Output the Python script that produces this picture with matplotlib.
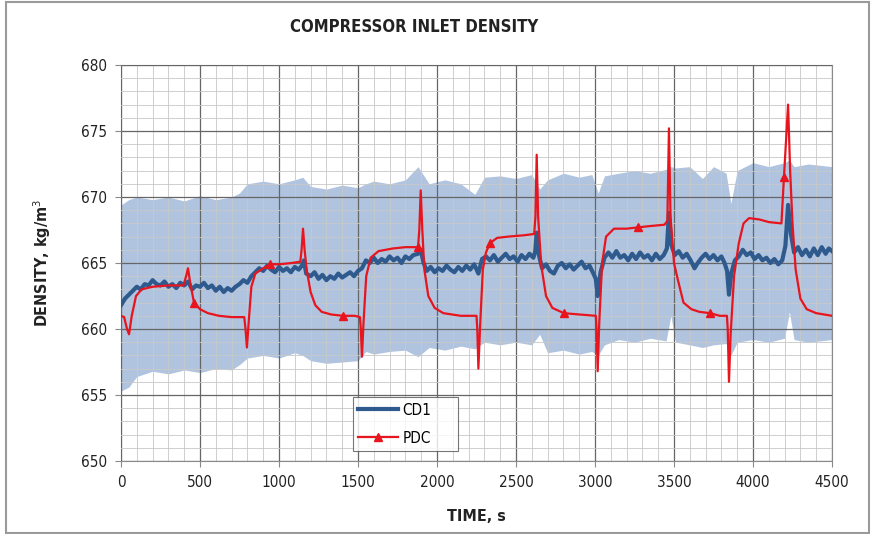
import matplotlib
matplotlib.use("Agg")
import matplotlib.pyplot as plt
from matplotlib.ticker import MultipleLocator
from matplotlib.patches import Rectangle

# ---------------- data ----------------
# CD1 measured density: (time s, density kg/m3)
cd1_points = [
    (0, 661.8), (25, 662.3), (50, 662.6), (75, 662.9), (100, 663.2), (125, 663.0), (150, 663.4),
    (175, 663.3), (200, 663.7), (225, 663.4), (250, 663.3), (275, 663.6), (300, 663.2), (325, 663.4),
    (350, 663.1), (375, 663.5), (400, 663.3), (425, 663.6), (450, 663.0), (475, 663.3), (500, 663.2),
    (525, 663.5), (550, 663.1), (575, 663.3), (600, 662.9), (625, 663.2), (650, 662.8), (675, 663.1),
    (700, 662.9), (725, 663.2), (750, 663.4), (775, 663.7), (800, 663.5), (825, 664.0), (850, 664.3),
    (875, 664.6), (900, 664.4), (925, 664.8), (950, 664.5), (975, 664.3), (1000, 664.7), (1025, 664.4),
    (1050, 664.6), (1075, 664.3), (1100, 664.7), (1125, 664.5), (1145, 664.8), (1158, 665.2),
    (1172, 664.2), (1200, 664.0), (1225, 664.3), (1250, 663.8), (1275, 664.1), (1300, 663.7),
    (1325, 664.0), (1350, 663.8), (1375, 664.2), (1400, 663.9), (1425, 664.1), (1450, 664.3),
    (1475, 664.0), (1500, 664.4), (1525, 664.6), (1550, 665.2), (1575, 665.0), (1600, 665.4),
    (1625, 665.0), (1650, 665.3), (1675, 665.1), (1700, 665.5), (1725, 665.2), (1750, 665.4),
    (1775, 665.0), (1800, 665.5), (1825, 665.3), (1850, 665.6), (1880, 665.7), (1897, 666.0),
    (1915, 665.0), (1935, 664.4), (1960, 664.7), (1985, 664.3), (2010, 664.6), (2035, 664.4),
    (2060, 664.8), (2085, 664.5), (2110, 664.3), (2135, 664.7), (2160, 664.4), (2185, 664.8),
    (2210, 664.5), (2235, 664.9), (2262, 664.2), (2285, 665.3), (2310, 665.5), (2335, 665.2),
    (2360, 665.6), (2385, 665.1), (2410, 665.4), (2435, 665.7), (2460, 665.3), (2485, 665.5),
    (2510, 665.1), (2535, 665.6), (2560, 665.3), (2585, 665.7), (2610, 665.4), (2622, 665.9),
    (2631, 667.3), (2645, 665.6), (2665, 664.6), (2690, 664.9), (2715, 664.4), (2740, 664.2),
    (2765, 664.8), (2790, 665.0), (2815, 664.6), (2840, 664.9), (2865, 664.5), (2890, 664.8),
    (2915, 665.1), (2940, 664.6), (2965, 664.8), (2990, 664.2), (3005, 663.8), (3017, 662.5),
    (3035, 664.3), (3060, 665.4), (3085, 665.8), (3110, 665.4), (3135, 665.9), (3160, 665.4),
    (3185, 665.6), (3210, 665.2), (3235, 665.7), (3260, 665.3), (3285, 665.8), (3310, 665.4),
    (3335, 665.6), (3360, 665.2), (3385, 665.7), (3410, 665.3), (3435, 665.6), (3455, 666.1),
    (3468, 668.8), (3482, 666.4), (3505, 665.6), (3530, 665.9), (3555, 665.4), (3580, 665.7),
    (3605, 665.2), (3630, 664.6), (3650, 665.0), (3675, 665.4), (3700, 665.7), (3725, 665.3),
    (3750, 665.6), (3775, 665.2), (3800, 665.5), (3820, 665.0), (3836, 664.4), (3848, 662.6),
    (3862, 664.2), (3885, 665.2), (3910, 665.5), (3935, 666.0), (3960, 665.6), (3985, 665.8),
    (4010, 665.3), (4035, 665.6), (4060, 665.2), (4085, 665.4), (4110, 665.0), (4135, 665.3),
    (4160, 664.9), (4185, 665.2), (4205, 666.3), (4222, 669.4), (4240, 667.2), (4260, 665.8),
    (4285, 666.2), (4310, 665.6), (4335, 666.0), (4360, 665.5), (4385, 666.1), (4410, 665.6),
    (4435, 666.2), (4460, 665.7), (4480, 666.1), (4500, 665.9),
]

# CD1 uncertainty band: (time s, lower, upper)
band_points = [
    (0, 655.3, 669.4), (50, 655.6, 669.8), (100, 656.4, 670.0), (200, 656.8, 669.8),
    (300, 656.6, 670.0), (400, 656.9, 669.7), (500, 656.7, 670.1), (600, 657.0, 669.8),
    (700, 656.9, 670.0), (750, 657.3, 670.3), (800, 657.8, 671.0), (900, 658.0, 671.2),
    (1000, 657.8, 671.0), (1100, 658.2, 671.3), (1150, 658.0, 671.5), (1200, 657.6, 670.8),
    (1300, 657.4, 670.6), (1400, 657.5, 670.9), (1500, 657.6, 670.7), (1550, 658.3, 671.0),
    (1600, 658.1, 671.2), (1700, 658.3, 671.0), (1800, 658.4, 671.3), (1880, 657.9, 672.3),
    (1950, 658.6, 671.0), (2050, 658.4, 671.3), (2150, 658.7, 671.0), (2240, 658.5, 670.2),
    (2300, 659.0, 671.5), (2400, 658.8, 671.6), (2500, 659.0, 671.4), (2600, 658.8, 671.7),
    (2650, 659.6, 670.6), (2700, 658.2, 671.3), (2800, 658.4, 671.8), (2900, 658.1, 671.5),
    (2980, 658.3, 671.7), (3020, 658.0, 670.3), (3060, 658.8, 671.6), (3150, 659.2, 671.8),
    (3250, 659.0, 672.0), (3350, 659.3, 671.8), (3450, 659.1, 672.1), (3480, 661.0, 672.3),
    (3510, 659.0, 672.2), (3600, 658.8, 672.3), (3680, 658.6, 671.4), (3750, 658.8, 672.3),
    (3830, 658.9, 671.8), (3860, 658.0, 669.5), (3900, 659.0, 672.0), (4000, 659.2, 672.6),
    (4100, 659.0, 672.3), (4200, 659.3, 672.6), (4230, 661.3, 672.8), (4260, 659.2, 672.3),
    (4350, 659.0, 672.5), (4500, 659.2, 672.3),
]

# PDC predicted density: (time s, density kg/m3)
pdc_points = [
    (0, 661.0), (20, 660.9), (38, 660.0), (51, 659.6), (68, 661.0), (95, 662.5), (130, 663.0),
    (200, 663.2), (300, 663.3), (395, 663.3), (412, 664.0), (424, 664.6), (438, 663.5), (462, 662.0),
    (500, 661.5), (550, 661.2), (620, 661.0), (700, 660.9), (780, 660.9), (788, 660.0), (797, 658.6),
    (808, 660.5), (825, 663.2), (850, 664.2), (900, 664.6), (943, 664.9), (1000, 664.9), (1080, 665.0),
    (1135, 665.1), (1143, 666.0), (1152, 667.6), (1162, 666.0), (1175, 664.5), (1200, 662.8),
    (1230, 661.8), (1270, 661.3), (1330, 661.1), (1405, 661.0), (1480, 661.0), (1512, 660.9),
    (1518, 660.0), (1525, 657.9), (1535, 660.5), (1552, 664.0), (1580, 665.4), (1630, 665.9),
    (1720, 666.1), (1800, 666.2), (1880, 666.2), (1888, 667.5), (1897, 670.5), (1907, 667.5),
    (1920, 664.5), (1945, 662.5), (1985, 661.6), (2040, 661.2), (2150, 661.0), (2250, 661.0),
    (2255, 660.0), (2262, 657.0), (2272, 660.0), (2290, 664.5), (2310, 665.8), (2335, 666.5),
    (2380, 666.9), (2450, 667.0), (2550, 667.1), (2615, 667.2), (2623, 668.5), (2631, 673.2),
    (2640, 668.5), (2660, 664.8), (2690, 662.5), (2730, 661.6), (2803, 661.2), (2900, 661.1),
    (3005, 661.0), (3010, 660.0), (3017, 656.8), (3027, 660.5), (3045, 665.0), (3070, 667.0),
    (3120, 667.6), (3200, 667.6), (3272, 667.7), (3350, 667.8), (3440, 667.9), (3458, 668.2),
    (3468, 675.2), (3478, 668.5), (3500, 665.0), (3525, 663.7), (3560, 662.0), (3610, 661.5),
    (3660, 661.3), (3728, 661.2), (3790, 661.0), (3835, 661.0), (3840, 660.0), (3848, 656.0),
    (3858, 659.5), (3880, 664.0), (3910, 666.5), (3940, 668.0), (3975, 668.4), (4040, 668.3),
    (4100, 668.1), (4180, 668.0), (4196, 671.5), (4222, 677.0), (4235, 672.0), (4250, 668.0),
    (4270, 664.5), (4300, 662.3), (4340, 661.5), (4400, 661.2), (4500, 661.0),
]
pdc_marker_t = [462, 943, 1405, 1880, 2335, 2803, 3272, 3728, 4196]

x_ticks = [0, 500, 1000, 1500, 2000, 2500, 3000, 3500, 4000, 4500]
y_ticks = [650, 655, 660, 665, 670, 675, 680]

cd1_t = [p[0] for p in cd1_points]
cd1_v = [p[1] for p in cd1_points]
band_t = [p[0] for p in band_points]
band_lo = [p[1] for p in band_points]
band_hi = [p[2] for p in band_points]
pdc_t = [p[0] for p in pdc_points]
pdc_v = [p[1] for p in pdc_points]

# ---------------- figure ----------------
plt.rcParams['font.family'] = ['DejaVu Sans']
plt.rcParams['font.stretch'] = 'condensed'
fig = plt.figure(figsize=(8.72, 5.34), dpi=100)
ax = fig.add_axes([121 / 872, 73 / 534, 711 / 872, 396 / 534])

fig.patches.append(Rectangle((6 / 872, 1 / 534), 863 / 872, 531 / 534, transform=fig.transFigure,
                             fill=False, edgecolor='#9a9a9a', linewidth=1.5))

ax.fill_between(band_t, band_lo, band_hi, color='#b0c4df', linewidth=0, zorder=1)
ax.plot(cd1_t, cd1_v, color='#2f5a8e', linewidth=3.0, zorder=3, label='CD1')
mk_idx = [pdc_t.index(t) for t in pdc_marker_t]
ax.plot(pdc_t, pdc_v, color='#e8141e', linewidth=1.6, zorder=4, marker='^', markersize=6,
        markevery=mk_idx, label='PDC')

ax.set_xlim(0, 4500)
ax.set_ylim(650, 680)
ax.set_xticks(x_ticks)
ax.set_yticks(y_ticks)
ax.xaxis.set_minor_locator(MultipleLocator(100))
ax.yaxis.set_minor_locator(MultipleLocator(1))
ax.grid(which='major', color='#666666', linewidth=0.9, zorder=2)
ax.grid(which='minor', color='#c8c8c8', linewidth=0.6, zorder=2)
ax.set_axisbelow(False)
for s in ax.spines.values():
    s.set_color('#8a8a8a')
ax.tick_params(which='major', length=4, color='#8a8a8a', labelsize=11, pad=6, labelcolor='#222222')
ax.tick_params(which='minor', length=0)

fig.text(414 / 872, 1 - 27 / 534, 'COMPRESSOR INLET DENSITY', ha='center', va='center',
         fontsize=12, fontweight='bold', color='#222222')
ax.set_xlabel('TIME, s', fontsize=11.5, fontweight='bold', labelpad=14, color='#222222')
ax.set_ylabel('DENSITY, kg/m$^3$', fontsize=11.5, fontweight='bold', labelpad=20, color='#222222')

leg = ax.legend(loc='lower left', bbox_to_anchor=(232 / 711, 10 / 396, 105 / 711, 0.13),
                mode='expand', borderaxespad=0, fontsize=11, frameon=True, fancybox=False,
                edgecolor='#555555', handlelength=2.6, handletextpad=0.3, borderpad=0.35,
                labelspacing=0.85)
leg.get_frame().set_linewidth(0.8)
leg.set_zorder(10)

fig.savefig('out.png', dpi=100)
